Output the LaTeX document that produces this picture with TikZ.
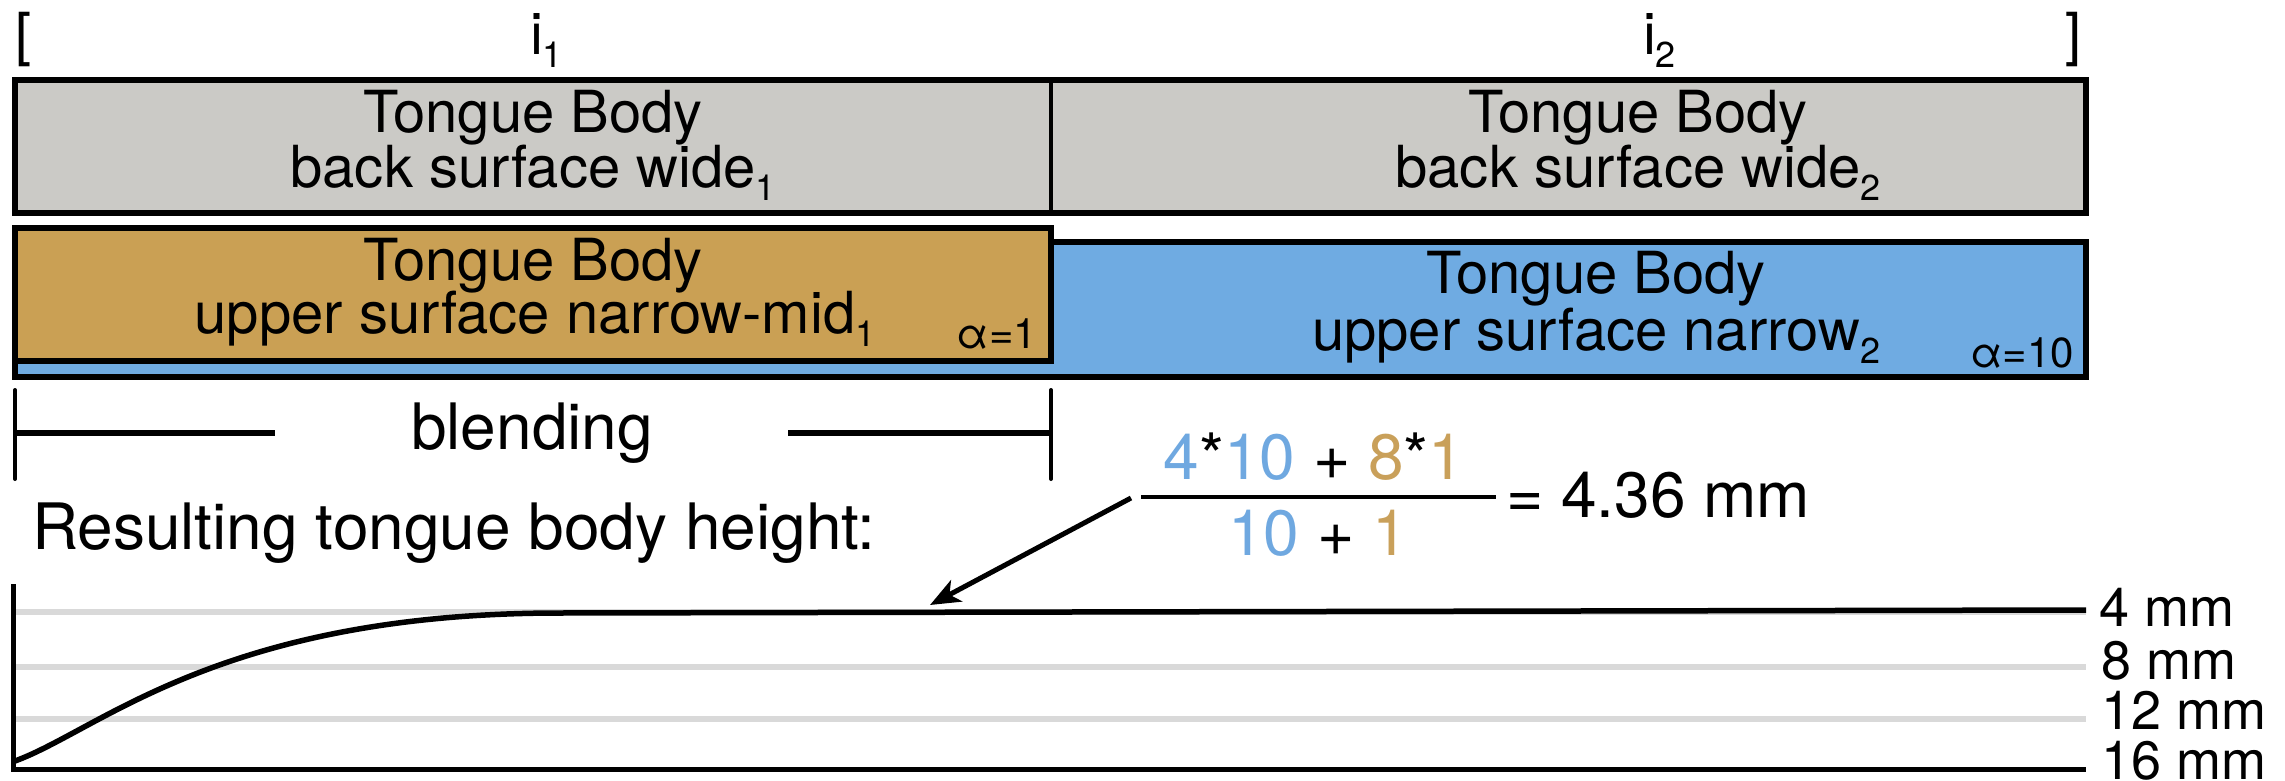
\documentclass[tikz,border=0pt]{standalone}
\usepackage{fontspec}
\setmainfont{TeX Gyre Heros}
\usetikzlibrary{arrows.meta}
\definecolor{boxgray}{HTML}{CBCAC6}
\definecolor{boxorange}{HTML}{CAA054}
\definecolor{boxblue}{HTML}{6FABE2}
\definecolor{txtblue}{HTML}{6FA8E0}
\definecolor{txtorange}{HTML}{C9A05A}
\definecolor{gridgray}{HTML}{D9D9D9}
\newcommand\subs[1]{\raisebox{-13pt}{\fontsize{36}{36}\selectfont #1}}
\tikzset{
  lbl/.style={inner sep=0pt, outer sep=0pt, font=\fontsize{58}{62}\selectfont},
  biglbl/.style={inner sep=0pt, outer sep=0pt, font=\fontsize{64}{68}\selectfont},
  mmlbl/.style={inner sep=0pt, outer sep=0pt, anchor=base west, font=\fontsize{54}{58}\selectfont},
  alphalbl/.style={inner sep=0pt, outer sep=0pt, anchor=base east, font=\fontsize{42}{46}\selectfont},
  boxline/.style={line width=6pt},
  grid/.style={line width=6pt, draw=gridgray},
  axis/.style={line width=5pt, black},
}
\begin{document}
\begin{tikzpicture}[x=1pt,y=-1pt]
\useasboundingbox (0,0) rectangle (2285,781);

% brackets and interval labels
\node[lbl, anchor=base west] (lb) at (16,55) {[};
\node[lbl, anchor=base east] (rb) at (2082,55) {]};
\node[lbl, anchor=base west] (i1) at (530,55) {i\subs{1}};
\node[lbl, anchor=base west] (i2) at (1643,55) {i\subs{2}};

% gray back-surface box
\draw[boxline, fill=boxgray] (15,80) rectangle (2086,213);
\draw[line width=3.5pt] (1051,80) -- (1051,213);
\node[lbl, anchor=base] (g1a) at (533,132) {Tongue Body};
\node[lbl, anchor=base] (g1b) at (533,187) {back surface wide\subs{1}};
\node[lbl, anchor=base] (g2a) at (1638,132) {Tongue Body};
\node[lbl, anchor=base] (g2b) at (1638,187) {back surface wide\subs{2}};

% blue and orange upper-surface boxes
\draw[boxline, fill=boxblue] (15,242) rectangle (2086,377);
\draw[boxline, fill=boxorange] (15,228) rectangle (1051,361);
\node[lbl, anchor=base] (o1a) at (533,280) {Tongue Body};
\node[lbl, anchor=base] (o1b) at (535,333) {upper surface narrow-mid\subs{1}};
\node[alphalbl] (a1) at (1037,348) {α=1};
\node[lbl, anchor=base] (b2a) at (1596,293) {Tongue Body};
\node[lbl, anchor=base] (b2b) at (1596,350) {upper surface narrow\subs{2}};
\node[alphalbl] (a2) at (2074,367) {α=10};

% blending bar
\coordinate (bl1) at (15,390);
\coordinate (bl2) at (15,479);
\coordinate (br1) at (1051,390);
\coordinate (br2) at (1051,479);
\draw[line width=4pt, line cap=round] (bl1) -- (bl2);
\draw[line width=4pt, line cap=round] (br1) -- (br2);
\coordinate (blm) at (15,433);
\coordinate (blme) at (275,433);
\coordinate (brm) at (1051,433);
\coordinate (brms) at (788,433);
\draw[line width=6pt] (blm) -- (blme);
\draw[line width=6pt] (brms) -- (brm);
\node[biglbl, anchor=base] (blend) at (532,449) {blending};

% resulting height label
\node[biglbl, anchor=base west] (res) at (32,549) {Resulting tongue body height:};

% formula
\node[biglbl, anchor=base] (num) at (1314,479) {\textcolor{txtblue}{4}*\textcolor{txtblue}{10} + \textcolor{txtorange}{8}*\textcolor{txtorange}{1}};
\node[biglbl, anchor=base] (den) at (1318,555) {\textcolor{txtblue}{10} + \textcolor{txtorange}{1}};
\coordinate (fracL) at (1141,497);
\coordinate (fracR) at (1496,497);
\draw[line width=4pt] (fracL) -- (fracR);
\node[biglbl, anchor=base west] (res2) at (1506,517) {= 4.36 mm};

% plot grid
\draw[grid] (15,612) -- (2086,612);
\draw[grid] (15,667) -- (2086,667);
\draw[grid] (15,719) -- (2086,719);
\draw[axis] (11,769) -- (2086,769);
\draw[axis] (13,584) -- (13,769);
\node[mmlbl] (m4) at (2099,626) {4 mm};
\node[mmlbl] (m8) at (2101,679) {8 mm};
\node[mmlbl] (m12) at (2101,729) {12 mm};
\node[mmlbl] (m16) at (2101,779) {16 mm};

% curve
\coordinate (c0) at (15,761);
\coordinate (c1) at (560,613);
\coordinate (c2) at (2086,610);
\draw[line width=5.5pt, line join=round] (c0) .. controls (100,730) and (220,613) .. (c1) -- (c2);

% arrow
\coordinate (arrS) at (1131,498);
\coordinate (arrT) at (930,605);
\draw[line width=5pt, -{Stealth[length=30pt, width=24pt, inset=8pt]}] (arrS) -- (arrT);
\end{tikzpicture}
\end{document}
